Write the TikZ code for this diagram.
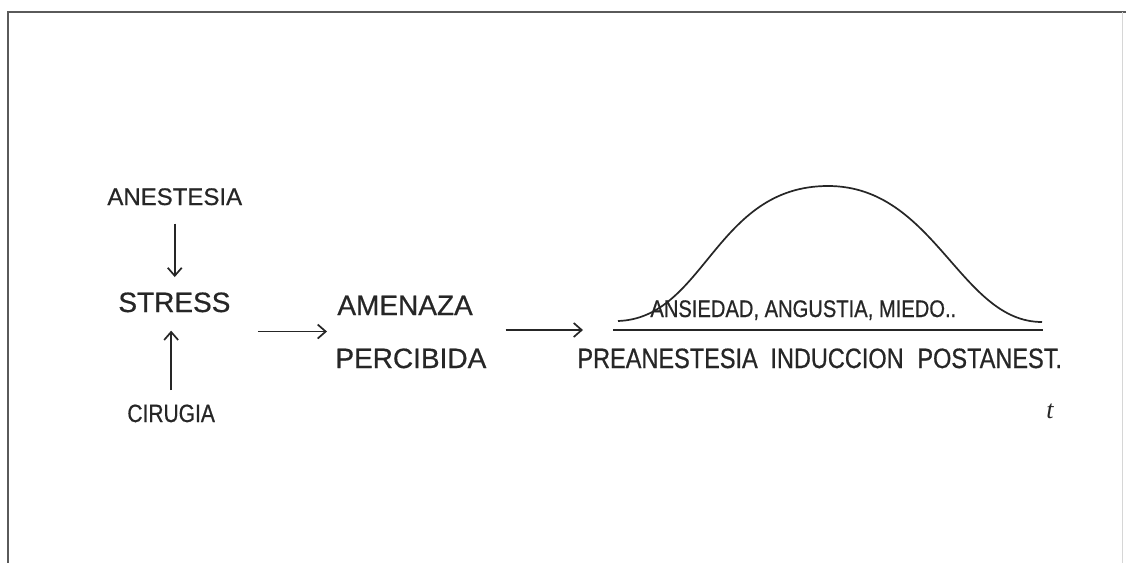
\documentclass[tikz,border=0pt]{standalone}
\usepackage{fontspec}
\setmainfont[FakeBold=0.6]{Liberation Sans}
\newfontfamily\narrowfont[FakeStretch=0.84,FakeBold=0.6]{Liberation Sans}
\newfontfamily\tfont{Liberation Serif}
\usetikzlibrary{arrows.meta,calc}
\definecolor{ink}{HTML}{262626}
\definecolor{framec}{HTML}{5A5A5A}
\begin{document}
\begin{tikzpicture}[x=0.5pt,y=-0.5pt,
  lbl/.style={inner sep=0pt, anchor=base west, text=ink},
  arr/.style={draw=ink, line width=0.85pt, -{Straight Barb[length=4pt,width=7pt]}},
  curveline/.style={draw=ink, line width=0.85pt},
  frameline/.style={draw=framec, line width=1.1pt}]
\useasboundingbox (0,0) rectangle (1126,563);
\fill[white] (0,0) rectangle (1126,563);
% frame
\draw[frameline] (8,563) -- (8,12) -- (1126,12);
\draw[draw=framec!25, line width=0.5pt] (1122,12) -- (1122,563);
% left group
\node[lbl, font=\fontsize{12}{14}\selectfont] (anest) at (107,205) {ANESTESIA};
\node[lbl, font=\fontsize{14}{16}\selectfont] (stress) at (118,312) {STRESS};
\node[lbl, font=\narrowfont\fontsize{12.5}{14}\selectfont] (cirugia) at (127,422) {CIRUGIA};
\node[lbl, font=\fontsize{14}{16}\selectfont] (amenaza) at (337,315) {AMENAZA};
\node[lbl, font=\fontsize{14}{16}\selectfont] (percibida) at (335,368) {PERCIBIDA};
% time axis
\coordinate (axisL) at (613,330);
\coordinate (axisR) at (1043,330);
\node[lbl, font=\narrowfont\fontsize{12}{14}\selectfont] (emo) at (650,317) {ANSIEDAD, ANGUSTIA, MIEDO..};
\node[lbl, font=\narrowfont\fontsize{14}{16}\selectfont] (pre) at (577,368) {PREANESTESIA};
\node[lbl, font=\narrowfont\fontsize{14}{16}\selectfont] (ind) at (770,368) {INDUCCION};
\node[lbl, font=\narrowfont\fontsize{14}{16}\selectfont] (post) at (917,368) {POSTANEST.};
\node[lbl, font=\tfont\itshape\fontsize{13}{14}\selectfont] (t) at (1046,418) {t};
% connectors
\draw[arr, shorten <=9pt, shorten >=7.5pt] (anest.south) -- (anest.south |- stress.north);
\draw[arr, shorten <=7pt, shorten >=9pt] (cirugia.north) -- (cirugia.north |- stress.south);
\coordinate (amp) at ($(amenaza.base west)!0.5!(percibida.north west)$);
\draw[arr, shorten <=13.5pt, shorten >=4.5pt] (stress.east |- amp) -- (amp);
\draw[arr, shorten <=9.5pt, shorten >=15pt] (percibida.east |- axisL) -- (axisL);
\draw[curveline] (axisL) -- (axisR);
% anxiety curve
\draw[curveline] (618,321) .. controls (705,318) and (715,186) .. (828,186)
  .. controls (935,186) and (960,322) .. (1042,322);
\end{tikzpicture}
\end{document}
